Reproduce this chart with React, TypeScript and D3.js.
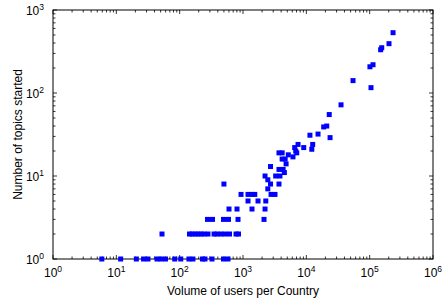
import React from "react";
import * as d3 from "d3";

const usersVolume: number[] = [
  5.9, 11.7, 20.7, 26.9, 31.6, 43.9, 50.7, 59.8, 83.5, 104, 140, 162, 229, 251, 324, 492, 580,
  52.6, 143, 157, 175, 195, 217, 242, 280, 349, 389, 450, 520, 612, 776, 849,
  275, 330, 492, 590, 834, 2147,
  601, 804, 1387, 2228,
  1200, 1726, 2290,
  931, 1200, 1387, 1535, 2773, 3200,
  2465,
  500, 2720, 3700,
  2465,
  2228, 3280, 3830,
  4500,
  3700, 4300,
  2720,
  4790,
  4150, 4630,
  6150,
  5190,
  3700, 4150, 7050,
  6800,
  6550, 9100,
  7400, 12600,
  12200, 11400, 15300, 23700, 18800, 21000, 23000, 35300, 54600, 101000, 113000, 105000,
  149000, 155000, 202000, 234000,
];

const topicsStarted: number[] = [
  1, 1, 1, 1, 1, 1, 1, 1, 1, 1, 1, 1, 1, 1, 1, 1, 1,
  2, 2, 2, 2, 2, 2, 2, 2, 2, 2, 2, 2, 2, 2, 2,
  3, 3, 3, 3, 3, 3,
  4, 4, 4, 4,
  5, 5, 5,
  6, 6, 6, 6, 6, 6,
  7,
  8, 8, 8,
  9,
  10, 10, 10,
  11,
  12, 12,
  13,
  14,
  16, 16,
  17,
  18,
  19, 19, 19,
  20,
  22, 22,
  24, 24,
  21, 31, 32, 29, 39, 40, 55, 72, 141, 207, 219, 116,
  332, 351, 393, 533,
];

const xTickExponents = [0, 1, 2, 3, 4, 5, 6];
const yTickExponents = [0, 1, 2, 3];
const xLabel = "Volume of users per Country";
const yLabel = "Number of topics started";

const W = 443;
const H = 299;
const left = 53;
const right = 433;
const top = 10;
const bottom = 259;
const FONT = "'Liberation Sans', Arial, Helvetica, sans-serif";

export default function App() {
  const x = d3.scaleLog().domain([1, 1e6]).range([left, right]);
  const y = d3.scaleLog().domain([1, 1e3]).range([bottom, top]);

  const xMinor: number[] = [];
  for (let e = 0; e < 6; e++) for (let m = 2; m <= 9; m++) xMinor.push(m * Math.pow(10, e));
  const yMinor: number[] = [];
  for (let e = 0; e < 3; e++) for (let m = 2; m <= 9; m++) yMinor.push(m * Math.pow(10, e));

  const maj = 4;
  const mnr = 2.5;
  const ms = 5;

  return (
    <svg
      width={W}
      height={H}
      style={{ position: "absolute", left: 0, top: 0, background: "#fff" }}
    >
      <rect x={0} y={0} width={W} height={H} fill="#fff" />
      <g stroke="#000" strokeWidth={0.8}>
        {xMinor.map((v, i) => (
          <g key={"xm" + i}>
            <line x1={x(v)} x2={x(v)} y1={bottom} y2={bottom - mnr} />
            <line x1={x(v)} x2={x(v)} y1={top} y2={top + mnr} />
          </g>
        ))}
        {yMinor.map((v, i) => (
          <g key={"ym" + i}>
            <line y1={y(v)} y2={y(v)} x1={left} x2={left + mnr} />
            <line y1={y(v)} y2={y(v)} x1={right} x2={right - mnr} />
          </g>
        ))}
        {xTickExponents.map((e) => (
          <g key={"xM" + e}>
            <line x1={x(Math.pow(10, e))} x2={x(Math.pow(10, e))} y1={bottom} y2={bottom - maj} />
            <line x1={x(Math.pow(10, e))} x2={x(Math.pow(10, e))} y1={top} y2={top + maj} />
          </g>
        ))}
        {yTickExponents.map((e) => (
          <g key={"yM" + e}>
            <line y1={y(Math.pow(10, e))} y2={y(Math.pow(10, e))} x1={left} x2={left + maj} />
            <line y1={y(Math.pow(10, e))} y2={y(Math.pow(10, e))} x1={right} x2={right - maj} />
          </g>
        ))}
      </g>
      <rect
        x={left}
        y={top}
        width={right - left}
        height={bottom - top}
        fill="none"
        stroke="#000"
        strokeWidth={1}
      />
      <g fill="#0000ff">
        {usersVolume.map((v, i) => (
          <rect
            key={"p" + i}
            x={x(v) - ms / 2}
            y={y(topicsStarted[i]) - ms / 2}
            width={ms}
            height={ms}
          />
        ))}
      </g>
      <g fontFamily={FONT} fontSize={12} fill="#000">
        {xTickExponents.map((e) => (
          <text key={"xl" + e} x={x(Math.pow(10, e))} y={bottom + 18} textAnchor="middle">
            10<tspan dy={-5} fontSize={8.5}>{e}</tspan>
          </text>
        ))}
        {yTickExponents.map((e) => (
          <text key={"yl" + e} x={left - 9} y={y(Math.pow(10, e)) + 5} textAnchor="end">
            10<tspan dy={-5} fontSize={8.5}>{e}</tspan>
          </text>
        ))}
        <text x={(left + right) / 2} y={295} textAnchor="middle">
          {xLabel}
        </text>
        <text
          transform={`translate(${22},${(top + bottom) / 2}) rotate(-90)`}
          textAnchor="middle"
        >
          {yLabel}
        </text>
      </g>
    </svg>
  );
}
